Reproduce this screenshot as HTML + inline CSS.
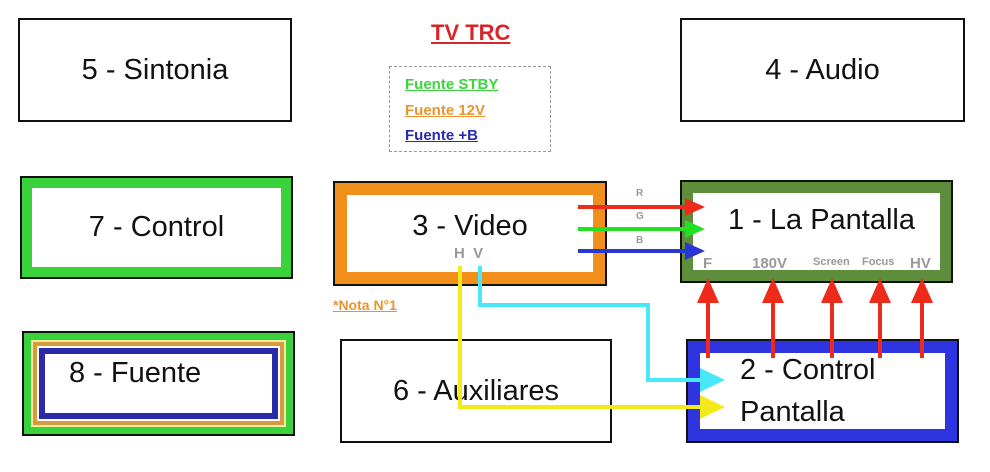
<!DOCTYPE html>
<html><head><style>
body{margin:0;width:990px;height:472px;background:#fff;position:relative;overflow:hidden;font-family:"Liberation Sans",sans-serif}
.b{position:absolute;box-sizing:border-box;background:#fff;display:flex;align-items:center;justify-content:center;font-size:29px;color:#111}
.t{position:absolute;font-weight:bold;white-space:nowrap}
</style></head><body>
<div class="b" style="left:18px;top:18px;width:274px;height:104px;border:2px solid #111">5 - Sintonia</div>
<div class="b" style="left:680px;top:18px;width:285px;height:104px;border:2px solid #111">4 - Audio</div>
<div class="b" style="left:20px;top:176px;width:273px;height:103px;border:2px solid #111;box-shadow:inset 0 0 0 10px #3ad23a">7 - Control</div>
<div class="b" style="left:333px;top:181px;width:274px;height:105px;border:2px solid #111;box-shadow:inset 0 0 0 12px #f0901a;padding-bottom:14px">3 - Video</div>
<div class="b" style="left:680px;top:180px;width:273px;height:103px;border:2px solid #111;box-shadow:inset 0 0 0 11px #5e8e3c;padding-bottom:22px;padding-left:10px">1 - La Pantalla</div>
<div class="b" style="left:22px;top:331px;width:273px;height:105px;border:2px solid #111;box-shadow:inset 0 0 0 7px #3ad23a,inset 0 0 0 9px #f5f0a0,inset 0 0 0 13px #d89a40,inset 0 0 0 15px #fff,inset 0 0 0 21px #2a2aa8;justify-content:flex-start;padding-left:45px;padding-bottom:20px">8 - Fuente</div>
<div class="b" style="left:340px;top:339px;width:272px;height:104px;border:2px solid #111">6 - Auxiliares</div>
<div class="b" style="left:686px;top:339px;width:273px;height:104px;border:2px solid #111;box-shadow:inset 0 0 0 12px #2e35e0;flex-direction:column;align-items:flex-start;padding-left:52px;line-height:42px">2 - Control<br>Pantalla</div>
<div class="t" style="left:431px;top:20px;font-size:22px;color:#d8252a;text-decoration:underline">TV TRC</div>
<div style="position:absolute;left:389px;top:66px;width:162px;height:86px;border:1.5px dashed #999;box-sizing:border-box"></div>
<div class="t" style="left:405px;top:76px;font-size:15px;color:#3dd43d;text-decoration:underline">Fuente STBY</div>
<div class="t" style="left:405px;top:102px;font-size:15px;color:#e89530;text-decoration:underline">Fuente 12V</div>
<div class="t" style="left:405px;top:127px;font-size:15px;color:#2a2ab0;text-decoration:underline">Fuente +B</div>
<div class="t" style="left:333px;top:297px;font-size:14px;color:#e89530;text-decoration:underline">*Nota N°1</div>
<div class="t" style="left:454px;top:245px;font-size:15px;color:#999">H&nbsp;&nbsp;V</div>
<div class="t" style="left:636px;top:188px;font-size:10px;color:#999">R</div>
<div class="t" style="left:636px;top:211px;font-size:10px;color:#999">G</div>
<div class="t" style="left:636px;top:235px;font-size:10px;color:#999">B</div>
<div class="t" style="left:703px;top:255px;font-size:15px;color:#999">F</div>
<div class="t" style="left:752px;top:255px;font-size:15px;color:#999">180V</div>
<div class="t" style="left:813px;top:256px;font-size:11px;color:#999">Screen</div>
<div class="t" style="left:862px;top:256px;font-size:11px;color:#999">Focus</div>
<div class="t" style="left:910px;top:255px;font-size:15px;color:#999">HV</div>
<svg width="990" height="472" style="position:absolute;left:0;top:0">
<g stroke-width="4" fill="none">
<line x1="578" y1="207" x2="688" y2="207" stroke="#ee2a1a"/>
<line x1="578" y1="229" x2="688" y2="229" stroke="#22e022"/>
<line x1="578" y1="251" x2="688" y2="251" stroke="#2a35d8"/>
<polyline points="460,266 460,407 705,407" stroke="#f4ea1a"/>
<polyline points="480,266 480,305 648,305 648,380 705,380" stroke="#48e8f8"/>
<g stroke="#ee2a1a"><line x1="708" y1="358" x2="708" y2="300"/><line x1="773" y1="358" x2="773" y2="300"/><line x1="832" y1="358" x2="832" y2="300"/><line x1="880" y1="358" x2="880" y2="300"/><line x1="922" y1="358" x2="922" y2="300"/></g>
</g>
<polygon points="685,198 705,207 685,216" fill="#ee2a1a"/>
<polygon points="685,220 705,229 685,238" fill="#22e022"/>
<polygon points="685,242 705,251 685,260" fill="#2a35d8"/>
<polygon points="700,368 725,380 700,392" fill="#48e8f8"/>
<polygon points="700,395 725,407 700,419" fill="#f4ea1a"/>
<g fill="#ee2a1a"><polygon points="697,303 708,278 719,303"/><polygon points="762,303 773,278 784,303"/><polygon points="821,303 832,278 843,303"/><polygon points="869,303 880,278 891,303"/><polygon points="911,303 922,278 933,303"/></g>
</svg>
</body></html>
